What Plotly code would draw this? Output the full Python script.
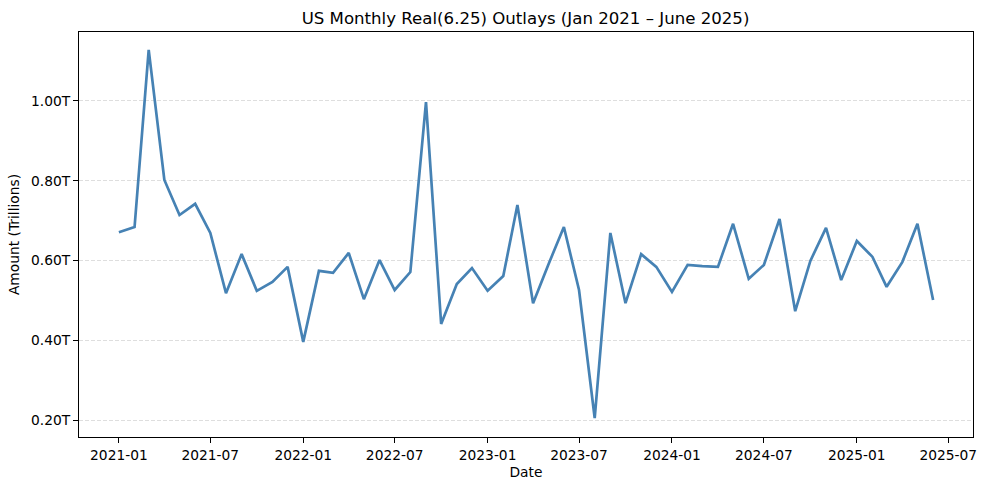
import pandas as pd
import plotly.graph_objects as go

# monthly real outlays, trillions of dollars
months = pd.date_range("2021-01-01", "2025-06-01", freq="MS")
outlays = [
    0.671, 0.684, 1.128, 0.802, 0.714, 0.742, 0.669, 0.518, 0.616, 0.524, 0.546, 0.584,
    0.396, 0.574, 0.569, 0.619, 0.503, 0.601, 0.526, 0.571, 0.997, 0.441, 0.541, 0.581,
    0.524, 0.561, 0.739, 0.493, 0.589, 0.684, 0.526, 0.205, 0.669, 0.493, 0.616, 0.584,
    0.521, 0.589, 0.586, 0.584, 0.692, 0.554, 0.589, 0.704, 0.473, 0.599, 0.682, 0.551,
    0.649, 0.609, 0.534, 0.596, 0.692, 0.501,
]
y_ticks = [0.2, 0.4, 0.6, 0.8, 1.0]
y_labels = [f"{v:.2f}T" for v in y_ticks]

fig = go.Figure()
fig.add_traces(
    go.Scatter(
        x=months,
        y=outlays,
        mode="lines",
        line=dict(color="#4682B4", width=2.7),
        showlegend=False,
    )
)
fig.layout.update(
    {
        "width": 986,
        "height": 490,
        "margin": dict(l=79, r=13, t=32, b=53),
        "plot_bgcolor": "white",
        "paper_bgcolor": "white",
        "font": dict(family="DejaVu Sans", size=13.8, color="black"),
        "title": dict(
            text="US Monthly Real(6.25) Outlays (Jan 2021 – June 2025)",
            x=0.533,
            xanchor="center",
            y=0.963,
            yanchor="middle",
            font=dict(size=16.6),
        ),
    }
)
fig.layout.xaxis.update(
    {
        "title": dict(text="Date", standoff=5, font=dict(size=13.8)),
        "range": ["2020-10-14", "2025-08-19"],
        "tick0": "2021-01-01",
        "dtick": "M6",
        "tickformat": "%Y-%m",
        "ticks": "outside",
        "ticklen": 5,
        "tickcolor": "black",
        "showgrid": False,
        "showline": True,
        "linecolor": "black",
        "linewidth": 1,
        "mirror": True,
        "zeroline": False,
        "automargin": False,
    }
)
fig.layout.yaxis.update(
    {
        "title": dict(text="Amount (Trillions)", standoff=8, font=dict(size=13.8)),
        "range": [0.1574, 1.173],
        "tickvals": y_ticks,
        "ticktext": y_labels,
        "ticks": "outside",
        "ticklen": 5,
        "tickcolor": "black",
        "showgrid": True,
        "gridcolor": "#dedede",
        "griddash": "4px,2px",
        "gridwidth": 1,
        "showline": True,
        "linecolor": "black",
        "linewidth": 1,
        "mirror": True,
        "zeroline": False,
        "automargin": False,
    }
)
fig.write_html(
    "out.html",
    config={"displayModeBar": False},
    post_script="document.body.style.margin='0';",
)
